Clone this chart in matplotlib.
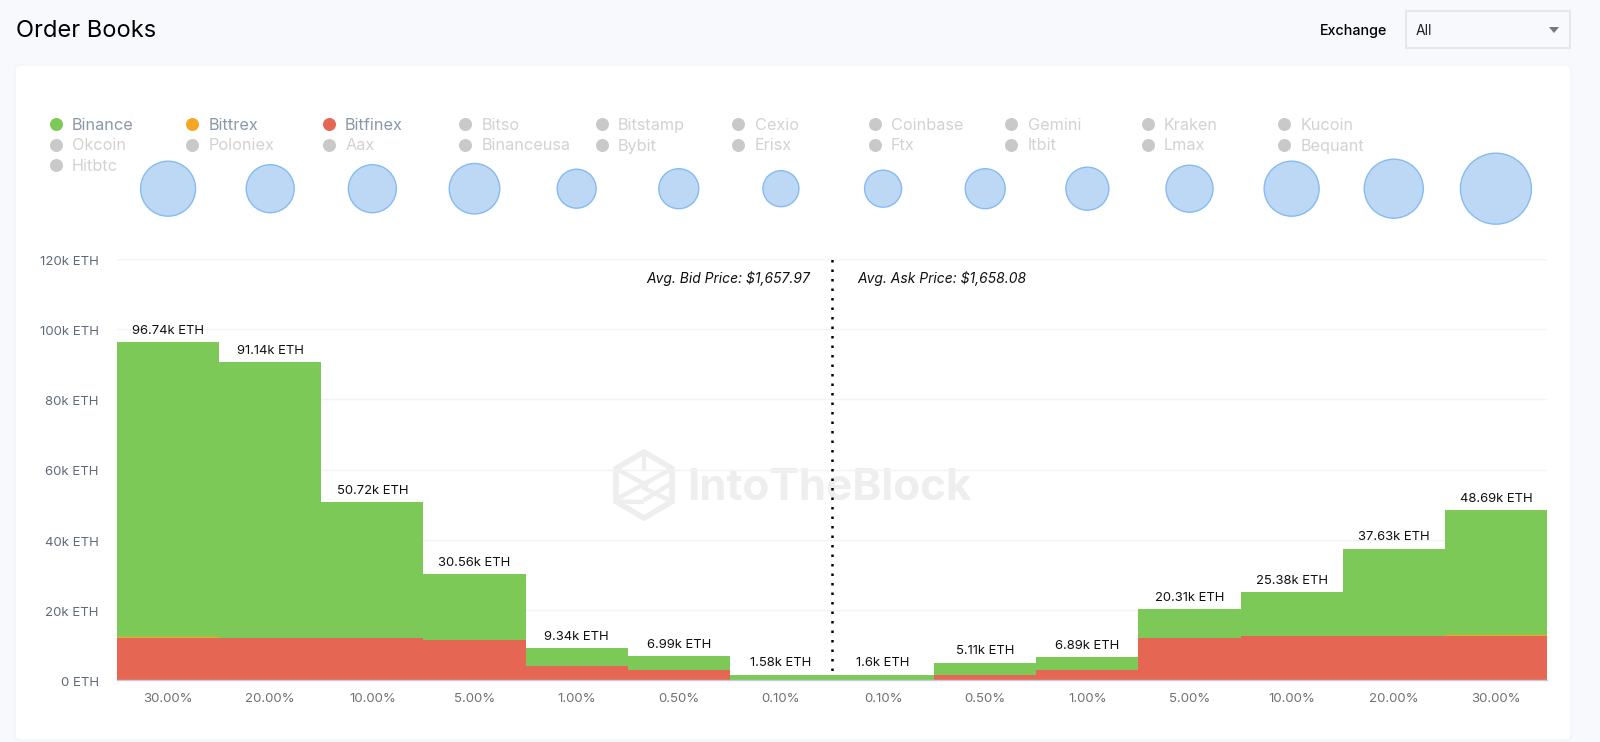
import numpy as np
import matplotlib
matplotlib.use("Agg")
import matplotlib.pyplot as plt
from matplotlib.patches import FancyBboxPatch, Polygon, Rectangle
from matplotlib.transforms import ScaledTranslation

plt.rcParams['font.family'] = ['Inter', 'DejaVu Sans']

# data
depth_labels = ['30.00%', '20.00%', '10.00%', '5.00%', '1.00%', '0.50%', '0.10%',
                '0.10%', '0.50%', '1.00%', '5.00%', '10.00%', '20.00%', '30.00%']
total_labels = ['96.74k ETH', '91.14k ETH', '50.72k ETH', '30.56k ETH', '9.34k ETH', '6.99k ETH', '1.58k ETH',
                '1.6k ETH', '5.11k ETH', '6.89k ETH', '20.31k ETH', '25.38k ETH', '37.63k ETH', '48.69k ETH']
# bar heights, they sit a little under the printed totals
totals = [96.2, 90.6, 50.6, 30.1, 9.1, 6.8, 1.5, 1.5, 4.9, 6.5, 20.1, 25.1, 37.4, 48.4]
bitfinex = [11.85, 11.9, 11.9, 11.4, 4.1, 2.8, 0.05, 0.05, 1.5, 2.8, 12.05, 12.55, 12.55, 12.55]
bittrex = [0.3, 0.05, 0.05, 0.05, 0.02, 0.02, 0.0, 0.0, 0.02, 0.02, 0.05, 0.05, 0.05, 0.25]
bubble_size = [55, 48, 48, 50.5, 39, 40, 36, 37, 40, 43, 47, 55, 59, 71]

y_ticks = [0, 20, 40, 60, 80, 100, 120]
y_tick_labels = ['0 ETH', '20k ETH', '40k ETH', '60k ETH', '80k ETH', '100k ETH', '120k ETH']

exchanges = ['Binance', 'Bittrex', 'Bitfinex', 'Bitso', 'Bitstamp', 'Cexio', 'Coinbase', 'Gemini', 'Kraken', 'Kucoin',
             'Okcoin', 'Poloniex', 'Aax', 'Binanceusa', 'Bybit', 'Erisx', 'Ftx', 'Itbit', 'Lmax', 'Bequant',
             'Hitbtc']
active_colors = {'Binance': '#7cc957', 'Bittrex': '#f5a623', 'Bitfinex': '#e56753'}

W, H = 1600, 742
GREEN, ORANGE, RED = '#7cc957', '#f5a623', '#e56753'

fig = plt.figure(figsize=(W / 100, H / 100), dpi=100, facecolor='#f8f9fd')

# page chrome, drawn in pixel coordinates
bg = fig.add_axes([0, 0, 1, 1])
bg.set_xlim(0, W)
bg.set_ylim(H, 0)
bg.axis('off')
bg.add_patch(FancyBboxPatch((15, 65), 1556, 675, boxstyle='round,pad=0,rounding_size=5',
                            fc='white', ec='#f3f4f9', lw=1))
bg.text(16, 31, 'Order Books', fontsize=17, color='black', va='center')
bg.text(1320, 31, 'Exchange', fontsize=10.3, color='black', va='center', fontweight='medium')
bg.add_patch(Rectangle((1406, 11), 164, 37, fc='#f8f9fd', ec='#e1e8ef', lw=1.5))
bg.text(1416, 31, 'All', fontsize=10, color='#222222', va='center')
bg.add_patch(Polygon([[1549, 27], [1559, 27], [1554, 33]], fc='#777777', ec='none'))

# legend
for i, name in enumerate(exchanges):
    lx = 55.6 + 136.5 * (i % 10)
    ly = 124 + 20.5 * (i // 10)
    on = name in active_colors
    bg.scatter([lx], [ly], s=(13 * 0.72) ** 2, color=active_colors.get(name, '#c9c9c9'), linewidths=0)
    bg.text(lx + 16.5, ly + 6, name, fontsize=11.7, va='baseline', color='#8a99a8' if on else '#d2d2d2')

# watermark
mark = '#eeeeee'
cx, cy, r = 644, 485, 33
hexagon = [[cx, cy - r], [cx + 28, cy - r / 2], [cx + 28, cy + r / 2], [cx, cy + r], [cx - 28, cy + r / 2], [cx - 28, cy - r / 2]]
bg.add_patch(Polygon(hexagon, fc='none', ec=mark, lw=4, joinstyle='miter'))
for a, b in [((cx - 28, cy - r / 2), (cx + 4, cy + 1)), ((cx + 28, cy - r / 2), (cx - 28, cy + r / 2 - 2)),
             ((cx, cy - r), (cx, cy - 14)), ((cx + 28, cy + r / 2), (cx - 2, cy + 2)),
             ((cx - 28, cy + r / 2), (cx, cy + r - 16)), ((cx + 28, cy - 2), (cx, cy + 15))]:
    bg.plot([a[0], b[0]], [a[1], b[1]], color=mark, lw=3.2, solid_capstyle='butt')
bg.text(687, 488, 'IntoTheBlock', fontsize=31.6, fontweight='bold', color=mark, va='center')

# main chart
ax = fig.add_axes([117 / W, (H - 680) / H, 1430 / W, 421 / H])
ax.patch.set_alpha(0)
x = np.arange(len(totals))
bitfinex = np.array(bitfinex)
bittrex = np.array(bittrex)
binance = np.array(totals) - bitfinex - bittrex

ax.axvline(6.5, color='black', lw=1.8, ls=(0, (1, 2.8)), zorder=1)
ax.bar(x, bitfinex, width=1, color=RED, linewidth=0, zorder=2)
ax.bar(x, bittrex, width=1, bottom=bitfinex, color=ORANGE, linewidth=0, zorder=2)
ax.bar(x, binance, width=1, bottom=bitfinex + bittrex, color=GREEN, linewidth=0, zorder=2)

ax.set_xlim(-0.5, len(totals) - 0.5)
ax.set_ylim(0, 120)
ax.set_xticks(x, depth_labels)
ax.set_yticks(y_ticks, y_tick_labels)
ax.tick_params(axis='x', length=0, pad=9.5, labelsize=9.5, labelcolor='#707070')
ax.tick_params(axis='y', length=0, pad=13, labelsize=9.5, labelcolor='#5f6b7a')
for lab in ax.get_yticklabels():
    lab.set_transform(lab.get_transform() + ScaledTranslation(0, -1 / 72, fig.dpi_scale_trans))
ax.grid(axis='y', color='#f3f3f5', lw=1, zorder=0)
ax.set_axisbelow(True)
for side in ['top', 'left', 'right']:
    ax.spines[side].set_visible(False)
ax.spines['bottom'].set_color('#c8c8dc')
ax.spines['bottom'].set_linewidth(1)

for xi, t, lab in zip(x, totals, total_labels):
    ax.annotate(lab, (xi, t), xytext=(0, 8.2), textcoords='offset points',
                ha='center', va='center', fontsize=9.4, color='#111111', zorder=4)

ax.text(6.285, 114.3, 'Avg. Bid Price: $1,657.97', ha='right', va='center', fontsize=10, style='italic', color='#111111')
ax.text(6.745, 114.3, 'Avg. Ask Price: $1,658.08', ha='left', va='center', fontsize=10, style='italic', color='#111111')

# bubbles above the bars
ax.scatter(x, [1.167] * len(x), s=(np.array(bubble_size) * 0.72) ** 2, color='#bdd8f5', edgecolor='#86bbf0',
           linewidths=1, transform=ax.get_xaxis_transform(), clip_on=False, zorder=3)

fig.savefig('out.png', dpi=100, facecolor=fig.get_facecolor())
